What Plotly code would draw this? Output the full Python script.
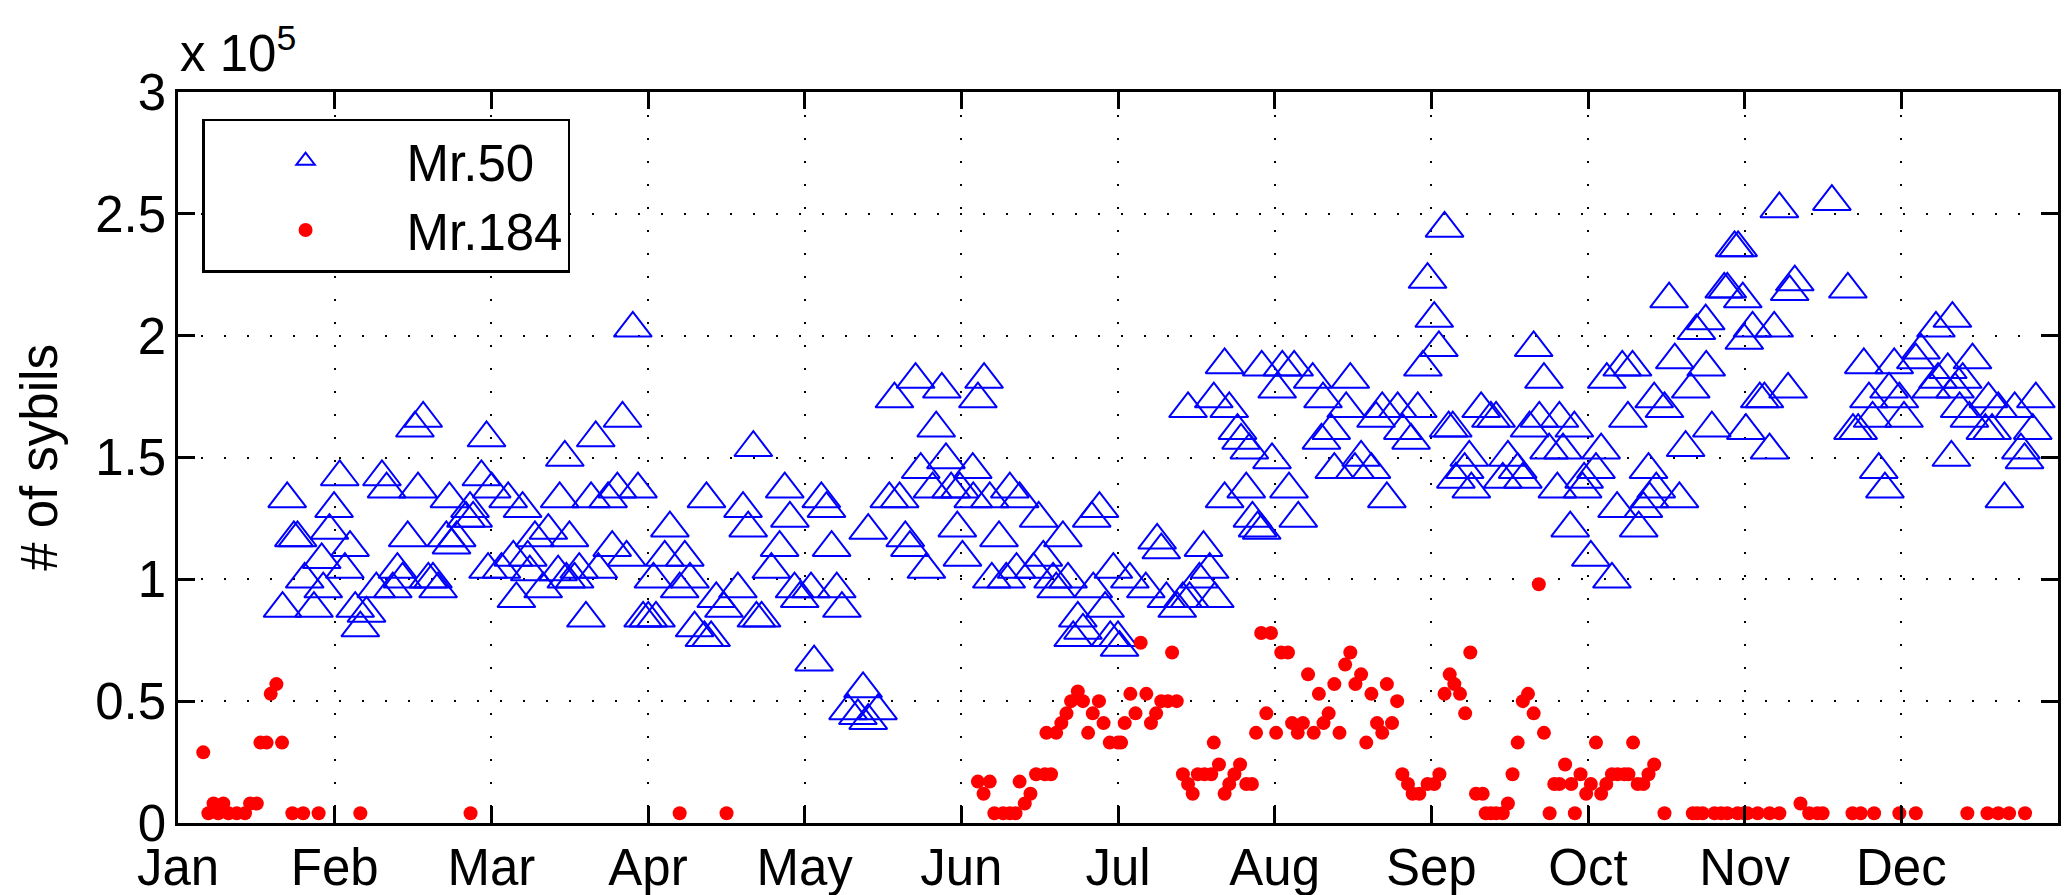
import plotly.graph_objects as go

# x = day offset from Jan 1 (axis spans 365 days, 12 equal month ticks); y in units of 1e5
months = ["Jan", "Feb", "Mar", "Apr", "May", "Jun", "Jul", "Aug", "Sep", "Oct", "Nov", "Dec"]

mr50_day = [
    21.2, 22.5, 23.2, 20.3, 26.4, 24.6, 27.9, 28.2, 29.4, 30.3, 31.4, 32.4, 33.4, 34.4, 35.4, 36.6,
    38.5, 42.6, 41.7, 43.6, 39.6, 40.5, 44.6, 46.6, 46.0, 47.6, 48.6, 49.5, 50.5, 52.7, 52.1, 53.1,
    54.1, 56.7, 57.3, 55.9, 58.9, 59.9, 60.9, 60.2,
    64.1, 66.9, 75.1, 74.1, 81.1, 86.3, 88.3, 80.2, 83.5, 85.3, 89.3, 69.3, 71.9, 76.0, 65.1, 67.9,
    62.8, 65.7, 70.9, 77.9, 77.0, 79.2, 84.3, 87.1, 68.3, 73.8, 75.4, 81.6, 95.5, 94.5, 98.4, 92.3,
    90.3, 91.3, 92.8, 99.4, 97.4, 100.3, 102.2, 103.5, 104.5, 106.0, 108.7, 102.6, 109.7, 110.7,
    111.7, 113.3, 112.3, 115.2, 116.8, 117.8, 118.8, 119.7, 120.7,
    124.9, 125.9, 126.9, 122.9, 127.9, 128.9, 123.5, 133.0, 130.1, 132.0, 135.9, 134.0, 134.0, 138.1,
    140.1, 141.2, 142.1, 145.3, 139.1, 143.2, 148.3, 147.2, 144.2, 149.1, 146.5, 150.1, 151.8, 154.3,
    154.4, 151.3, 152.3, 155.3, 156.5, 157.6, 159.4, 161.5, 163.4, 158.0, 160.8, 162.8, 166.1, 167.1,
    168.0, 169.9, 171.8, 172.8, 170.5, 177.4, 178.9, 177.7, 181.6, 174.7, 175.7, 173.8, 180.0, 181.0,
    184.8, 187.9, 191.9, 195.1, 194.0, 190.1, 190.9, 199.1, 200.3, 198.3, 201.3, 196.4, 182.5, 182.8,
    196.1, 201.1, 203.2, 204.1, 205.7, 206.4, 208.0, 203.2, 207.4, 208.6, 209.6, 210.4, 212.4, 215.7,
    217.5, 210.4, 214.4, 213.4, 216.7, 220.3, 222.3, 227.6, 226.8, 223.9, 222.0, 224.5, 229.7, 228.5,
    231.7, 234.7, 232.6, 233.8, 236.8, 237.8, 239.4, 240.7, 241.7,
    245.9, 242.6, 243.9, 244.8, 247.5, 246.7, 253.0, 254.9, 255.9, 250.7, 249.8, 251.1, 248.1, 258.2,
    257.2, 260.1, 261.1, 263.2, 265.2, 262.4, 264.3, 268.2, 271.1, 266.2, 268.9, 267.8, 276.3, 273.0,
    272.7, 275.3, 270.3, 274.3, 278.4, 279.4, 277.4, 280.4, 282.4, 281.5, 285.5, 285.7, 287.0, 284.5,
    283.6, 291.5, 286.6, 288.6, 289.5, 290.6, 293.7, 292.7, 294.8, 296.6, 296.7, 297.8, 302.2, 302.9,
    300.2, 300.8, 303.8, 304.1,
    310.9, 321.1, 313.9, 312.9, 324.2, 305.7, 309.9, 307.1, 308.0, 312.6, 304.4, 309.0, 327.3, 333.2,
    332.2, 328.3, 325.2, 326.2, 329.0, 334.2, 335.1, 330.2, 331.4, 341.3, 344.5, 338.4, 337.4, 343.6,
    341.7, 340.4, 345.0, 348.4, 346.5, 345.9, 344.3, 351.5, 353.4, 356.6, 360.7, 347.8, 350.9, 360.1,
    352.2, 357.8, 358.5, 354.6,
]
mr50_val = [
    1.33, 1.17, 1.17, 0.88, 0.88, 1.00, 1.08, 0.96, 1.20, 1.29, 1.42, 1.04, 1.13, 0.88, 0.80, 0.86,
    0.96, 1.04, 0.96, 1.00, 1.42, 1.37, 1.17, 1.37, 1.62, 1.66, 1.00, 1.00, 0.96, 1.33, 1.17, 1.14,
    1.17, 1.29, 1.25, 1.25, 1.42, 1.58, 1.37, 1.04,
    1.33, 1.29, 1.50, 1.33, 1.58, 1.66, 2.03, 1.33, 1.33, 1.37, 1.37, 1.17, 1.20, 1.17, 1.09, 1.09,
    1.04, 0.92, 0.96, 1.04, 1.00, 0.84, 1.13, 1.09, 1.03, 1.03, 1.00, 1.04, 1.21, 1.09, 1.09, 1.00,
    0.84, 0.84, 0.84, 1.00, 0.96, 0.80, 0.76, 0.76, 0.92, 0.88, 0.96, 1.33, 1.29, 1.21,
    1.54, 0.84, 0.84, 1.04, 1.13, 1.37, 1.25, 0.96, 0.92,
    1.33, 1.29, 1.13, 0.96, 0.96, 0.88, 0.66, 0.55, 0.46, 0.44, 0.46, 0.42, 1.20, 1.33,
    1.33, 1.17, 1.13, 1.04, 1.74, 1.82, 1.78, 1.62, 1.45, 1.49, 1.37, 1.37, 1.37, 1.45,
    1.33, 1.21, 1.09, 1.74, 1.82, 1.33, 1.17, 1.37, 1.33, 1.00, 1.00, 1.04, 1.04, 1.25,
    1.09, 1.00, 1.17, 1.00, 0.96, 1.25, 1.29, 0.96, 1.04, 0.84, 0.79, 0.76, 0.88, 0.76,
    1.00, 0.96, 0.92, 0.92, 0.88, 1.16, 1.12, 1.13, 1.04, 1.00, 0.92, 0.92, 0.76, 0.72,
    1.70, 1.74, 1.88, 1.70, 1.61, 1.57, 1.53, 1.33, 1.37, 1.25, 1.21, 1.20, 1.49, 1.37,
    1.25, 1.87, 1.87, 1.78, 1.87, 1.82, 1.74, 1.82, 1.70, 1.61, 1.57, 1.45, 1.50, 1.45,
    1.45, 1.33, 1.66, 1.70, 1.70, 1.61, 1.57, 1.70, 1.87,
    2.44, 2.23, 2.07, 1.95, 1.62, 1.62, 1.70, 1.66, 1.66, 1.50, 1.45, 1.37, 1.41, 1.50,
    1.41, 1.45, 1.41, 1.95, 1.82, 1.62, 1.66, 1.66, 1.62, 1.53, 1.53, 1.37, 1.53, 1.41,
    1.37, 1.45, 1.21, 1.09, 1.00, 1.29, 1.82, 1.87, 1.87, 1.66, 1.45, 1.33, 1.37, 1.29,
    1.21, 1.33, 1.74, 1.70, 2.15, 1.90, 1.78, 1.54, 2.02, 2.06, 1.87, 1.62, 2.36, 2.36,
    2.19, 2.19, 2.15, 1.98,
    2.52, 2.55, 2.22, 2.18, 2.19, 2.03, 2.03, 1.74, 1.74, 1.78, 1.61, 1.53, 1.88, 1.88,
    1.78, 1.74, 1.61, 1.61, 1.66, 1.74, 1.66, 1.45, 1.37, 2.03, 2.07, 1.94, 1.90, 1.86,
    1.82, 1.78, 1.78, 1.90, 1.82, 1.70, 1.50, 1.74, 1.70, 1.70, 1.74, 1.66, 1.61, 1.61,
    1.61, 1.53, 1.49, 1.33,
]

mr184_day = [
    4.9, 6.9, 8.8, 5.9, 7.8, 9.8, 11.4, 13.0, 14.0, 15.3, 16.0, 17.2, 20.2, 18.0, 19.1, 22.2, 24.3,
    27.3, 35.4, 56.8, 97.4, 106.5,
    155.3, 157.6, 156.4, 158.5, 160.2, 161.5, 162.6, 163.4, 165.5, 164.4, 166.6, 168.3, 169.5, 168.6,
    170.5, 171.5, 172.5, 173.4, 174.7, 175.7, 176.7, 177.6, 178.8, 179.7, 180.9, 182.5,
    183.1, 183.8, 184.9, 185.9, 186.9, 188.0, 188.9, 189.9, 190.9, 192.2, 193.9, 193.0, 195.1, 196.1,
    197.0, 198.0, 199.3, 200.6, 201.1, 202.1, 203.2, 204.1, 205.1, 206.2, 207.4, 208.5, 209.3, 210.3,
    212.2, 211.3, 213.2, 214.2, 215.5, 216.3, 217.4, 218.4, 219.4, 220.5, 221.5, 222.4, 223.4, 224.5,
    225.5, 226.6, 227.6, 228.6, 229.7, 230.7, 231.7, 232.8, 233.8, 234.7, 235.7, 236.7, 237.7, 238.8,
    239.7, 241.0, 242.6,
    243.9, 244.9, 245.9, 246.9, 247.8, 248.9, 249.9, 250.9, 252.0, 253.3, 253.9, 254.9, 255.9, 257.2,
    258.2, 259.1, 260.1, 261.1, 262.1, 263.2, 264.2, 265.2, 266.3, 267.2, 268.2, 270.5, 269.3, 271.2,
    272.3, 273.4, 274.3, 275.3, 276.3, 277.3, 278.4, 279.5, 280.8, 281.6, 282.5, 283.4, 284.5, 285.5,
    286.6, 288.6, 294.1, 295.0, 296.0, 298.3, 299.6, 300.8, 302.8, 304.1,
    304.7, 306.7, 309.0, 310.9, 315.0, 316.7, 318.3, 319.3, 325.1, 326.7, 329.3, 334.2, 337.4, 347.4,
    351.3, 353.4, 355.5, 358.6,
]
mr184_val = [
    0.29, 0.08, 0.08, 0.04, 0.04, 0.04, 0.04, 0.04, 0.08, 0.08, 0.33, 0.33, 0.33, 0.53, 0.57, 0.04, 0.04,
    0.04, 0.04, 0.04, 0.04, 0.04,
    0.17, 0.17, 0.12, 0.04, 0.04, 0.04, 0.04, 0.17, 0.12, 0.08, 0.20, 0.20, 0.20, 0.37,
    0.37, 0.41, 0.45, 0.50, 0.54, 0.50, 0.37, 0.45, 0.50, 0.41, 0.33, 0.33,
    0.33, 0.41, 0.53, 0.45, 0.74, 0.53, 0.41, 0.45, 0.50, 0.50, 0.50, 0.70, 0.20, 0.16,
    0.12, 0.20, 0.20, 0.20, 0.33, 0.24, 0.12, 0.16, 0.20, 0.24, 0.16, 0.16, 0.37, 0.78,
    0.78, 0.45, 0.37, 0.70, 0.70, 0.41, 0.37, 0.41, 0.61, 0.37, 0.53, 0.41, 0.45, 0.57,
    0.37, 0.65, 0.70, 0.57, 0.61, 0.33, 0.53, 0.41, 0.37, 0.57, 0.41, 0.50, 0.20, 0.16,
    0.12, 0.12, 0.16,
    0.16, 0.20, 0.53, 0.61, 0.57, 0.53, 0.45, 0.70, 0.12, 0.12, 0.04, 0.04, 0.04, 0.04,
    0.08, 0.20, 0.33, 0.50, 0.53, 0.45, 0.98, 0.37, 0.04, 0.16, 0.16, 0.16, 0.24, 0.04,
    0.20, 0.12, 0.16, 0.33, 0.12, 0.16, 0.20, 0.20, 0.20, 0.20, 0.33, 0.16, 0.16, 0.20,
    0.24, 0.04, 0.04, 0.04, 0.04, 0.04, 0.04, 0.04, 0.04, 0.04,
    0.04, 0.04, 0.04, 0.04, 0.08, 0.04, 0.04, 0.04, 0.04, 0.04, 0.04, 0.04, 0.04, 0.04,
    0.04, 0.04, 0.04, 0.04,
]

y_ticks = [0, 0.5, 1, 1.5, 2, 2.5, 3]
y_ticktext = ["0", "0.5", "1", "1.5", "2", "2.5", "3"]

FONT = "Liberation Sans, Arial, Helvetica, sans-serif"
FS = 51

month_ticks = [i * 365 / 12 for i in range(12)]

fig = go.Figure()
fig.add_trace(go.Scatter(
    x=mr50_day, y=mr50_val, mode="markers", name="Mr.50",
    marker=dict(symbol="triangle-up-open", size=33, color="#0000FF",
                line=dict(width=2, color="#0000FF")),
))
fig.add_trace(go.Scatter(
    x=mr184_day, y=mr184_val, mode="markers", name="Mr.184",
    marker=dict(symbol="circle", size=14, color="#FF0000", line=dict(width=0)),
))

axis_common = dict(
    showline=True, linecolor="black", linewidth=2.5, mirror="ticks",
    ticks="inside", ticklen=17, tickwidth=2.5, tickcolor="black",
    showgrid=True, gridcolor="black", gridwidth=1.5, griddash="2px,21px",
    zeroline=False, automargin=False,
    tickfont=dict(family=FONT, size=FS, color="black"),
)

fig.update_xaxes(range=[0, 365], tickvals=month_ticks, ticktext=months,
                 ticklabelstandoff=-2, **axis_common)
fig.update_yaxes(range=[0, 3], tickvals=y_ticks, ticktext=y_ticktext, ticklabelstandoff=-1,
                 title=dict(text="# of sybils", font=dict(family=FONT, size=FS, color="black"),
                            standoff=22),
                 **axis_common)

fig.add_annotation(text="x 10<sup>5</sup>", xref="paper", yref="paper", x=0, y=1,
                   xanchor="left", yanchor="bottom", showarrow=False, yshift=8,
                   font=dict(family=FONT, size=FS, color="black"))

fig.update_layout(
    width=2070, height=895,
    margin=dict(l=178, r=12, t=92, b=72, autoexpand=False),
    plot_bgcolor="white", paper_bgcolor="white",
    font=dict(family=FONT, size=FS, color="black"),
    legend=dict(x=0.0128, y=0.9637, xanchor="left", yanchor="top",
                bordercolor="black", borderwidth=2.5, bgcolor="white",
                font=dict(family=FONT, size=FS, color="black"),
                itemwidth=192, tracegroupgap=0),
    showlegend=True,
)

fig.write_html("out.html")
